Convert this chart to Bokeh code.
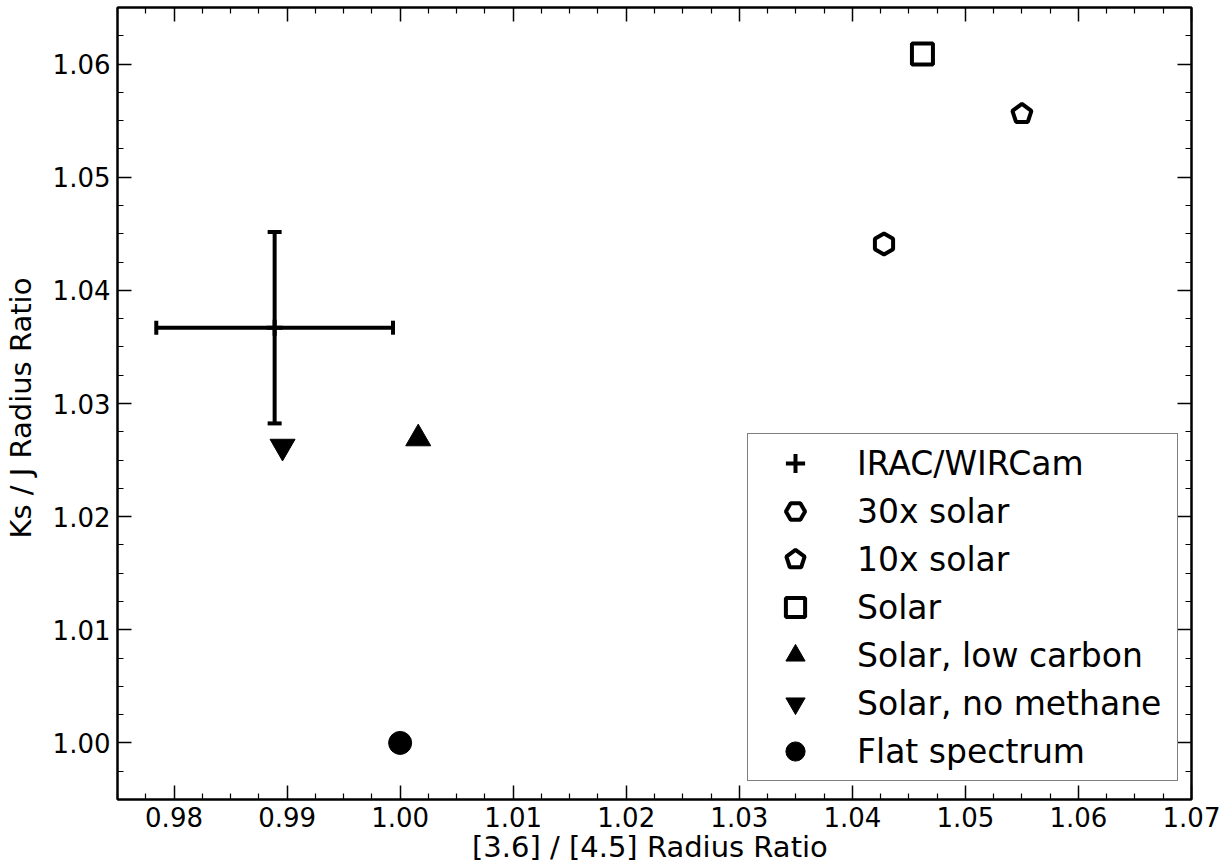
import numpy as np
from bokeh.plotting import figure
from bokeh.models import (Range1d, LinearAxis, FixedTicker, NumeralTickFormatter, Whisker,
                          TeeHead, ColumnDataSource, Legend, LegendItem, CustomJSTickFormatter,
                          CustomLabelingPolicy)
from bokeh.embed import file_html
from bokeh.resources import INLINE

# ---- tick labels ----
x_ticks = [0.98, 0.99, 1.00, 1.01, 1.02, 1.03, 1.04, 1.05, 1.06, 1.07]
y_ticks = [1.00, 1.01, 1.02, 1.03, 1.04, 1.05, 1.06]

# ---- data ----
series_labels = ["IRAC/WIRCam", "30x solar", "10x solar", "Solar",
                 "Solar, low carbon", "Solar, no methane", "Flat spectrum"]
obs_x = [0.9889]
obs_y = [1.0367]
obs_xerr = [0.01047]
obs_yerr = [0.00846]
x30_x = [1.0428]
x30_y = [1.0441]
x10_x = [1.0550]
x10_y = [1.0556]
solar_x = [1.0462]
solar_y = [1.0609]
lowc_x = [1.0016]
lowc_y = [1.0269]
nometh_x = [0.9896]
nometh_y = [1.0262]
flat_x = [1.0000]
flat_y = [1.0000]

FONT = "DejaVu Sans"

p = figure(width=1228, height=867, output_backend="svg", toolbar_location=None,
           x_range=Range1d(0.975, 1.07), y_range=Range1d(0.995, 1.065),
           min_border_left=116, min_border_right=37, min_border_top=7, min_border_bottom=68)
p.xgrid.visible = False
p.ygrid.visible = False
p.outline_line_color = "black"
p.outline_line_width = 2
p.background_fill_color = "white"
p.border_fill_color = "white"


def minor_from(ticks, n=4):
    out = []
    step = (ticks[1] - ticks[0]) / n
    for t in [ticks[0] - (ticks[1] - ticks[0])] + ticks:
        for k in range(1, n):
            out.append(t + k * step)
    return out


HIDE_LABELS = CustomLabelingPolicy(code="""
    for (const i of Array.from(indices)) { indices.unset(i) }
    return indices
""")


def style(ax, ticks, show):
    ax.ticker = FixedTicker(ticks=ticks, minor_ticks=minor_from(ticks))
    ax.major_tick_in = 14
    ax.major_tick_out = 0
    ax.minor_tick_in = 6
    ax.minor_tick_out = 0
    ax.major_tick_line_width = 1.5
    ax.minor_tick_line_width = 1.2
    ax.major_tick_line_color = "black"
    ax.minor_tick_line_color = "black"
    ax.axis_line_width = 2
    ax.axis_line_color = "black"
    ax.major_label_text_font = FONT
    ax.major_label_text_color = "black"
    if show:
        ax.formatter = NumeralTickFormatter(format="0.00")
        ax.major_label_text_font_size = "26px"
        ax.major_label_standoff = 7
    else:
        ax.formatter = CustomJSTickFormatter(code="return ''")
        ax.major_label_policy = HIDE_LABELS
        ax.major_label_text_font_size = "0px"
        ax.major_label_standoff = 0


xb = p.xaxis[0]
yl = p.yaxis[0]
style(xb, x_ticks, True)
style(yl, y_ticks, True)
xb.axis_label = "[3.6] / [4.5]  Radius Ratio"
yl.axis_label = "Ks / J  Radius Ratio"
for ax in (xb, yl):
    ax.axis_label_text_font = FONT
    ax.axis_label_text_font_size = "29px"
    ax.axis_label_text_font_style = "normal"
    ax.axis_label_text_color = "black"
xb.axis_label_standoff = 0
yl.axis_label_standoff = 12

xt = LinearAxis()
style(xt, x_ticks, False)
p.add_layout(xt, "above")
yr = LinearAxis()
style(yr, y_ticks, False)
p.add_layout(yr, "right")

# ---- error bars ----
src = ColumnDataSource(dict(
    x=obs_x, y=obs_y,
    xlo=[a - e for a, e in zip(obs_x, obs_xerr)], xhi=[a + e for a, e in zip(obs_x, obs_xerr)],
    ylo=[a - e for a, e in zip(obs_y, obs_yerr)], yhi=[a + e for a, e in zip(obs_y, obs_yerr)],
))
for dim, base, lo, hi in (("width", "y", "xlo", "xhi"), ("height", "x", "ylo", "yhi")):
    w = Whisker(source=src, base=base, lower=lo, upper=hi, dimension=dim,
                line_width=4, line_color="black",
                upper_head=TeeHead(size=14, line_width=4, line_color="black"),
                lower_head=TeeHead(size=14, line_width=4, line_color="black"))
    p.add_layout(w)

r_obs = p.scatter(obs_x, obs_y, marker="cross", size=16, line_width=4, line_color="black")
r30 = p.scatter(x30_x, x30_y, marker="hex", size=21, angle=np.pi / 2,
                fill_color=None, line_color="black", line_width=4)
r10 = p.ngon(x10_x, x10_y, radius=10, n=5, radius_units="screen",
             fill_color=None, line_color="black", line_width=4)
rsol = p.scatter(solar_x, solar_y, marker="square", size=21,
                 fill_color=None, line_color="black", line_width=4)
rlow = p.scatter(lowc_x, lowc_y, marker="triangle", size=25,
                 fill_color="black", line_color="black", line_width=1)
rnom = p.scatter(nometh_x, nometh_y, marker="inverted_triangle", size=25,
                 fill_color="black", line_color="black", line_width=1)
rflat = p.scatter(flat_x, flat_y, marker="circle", size=23,
                  fill_color="black", line_color="black", line_width=1)

renderers = [r_obs, r30, r10, rsol, rlow, rnom, rflat]
legend = Legend(items=[LegendItem(label=l, renderers=[r]) for l, r in zip(series_labels, renderers)])
legend.location = (630, 18)
legend.margin = 0
legend.padding = 5
legend.spacing = 0
legend.glyph_width = 84
legend.glyph_height = 48
legend.label_height = 48
legend.label_width = 315
legend.label_standoff = 20
legend.label_text_font = FONT
legend.label_text_font_size = "33px"
legend.label_text_color = "black"
legend.label_text_baseline = "middle"
legend.border_line_color = "black"
legend.border_line_width = 1.5
legend.background_fill_color = "white"
legend.background_fill_alpha = 1.0
p.add_layout(legend)

open("out.html", "w").write(file_html(p, INLINE))
